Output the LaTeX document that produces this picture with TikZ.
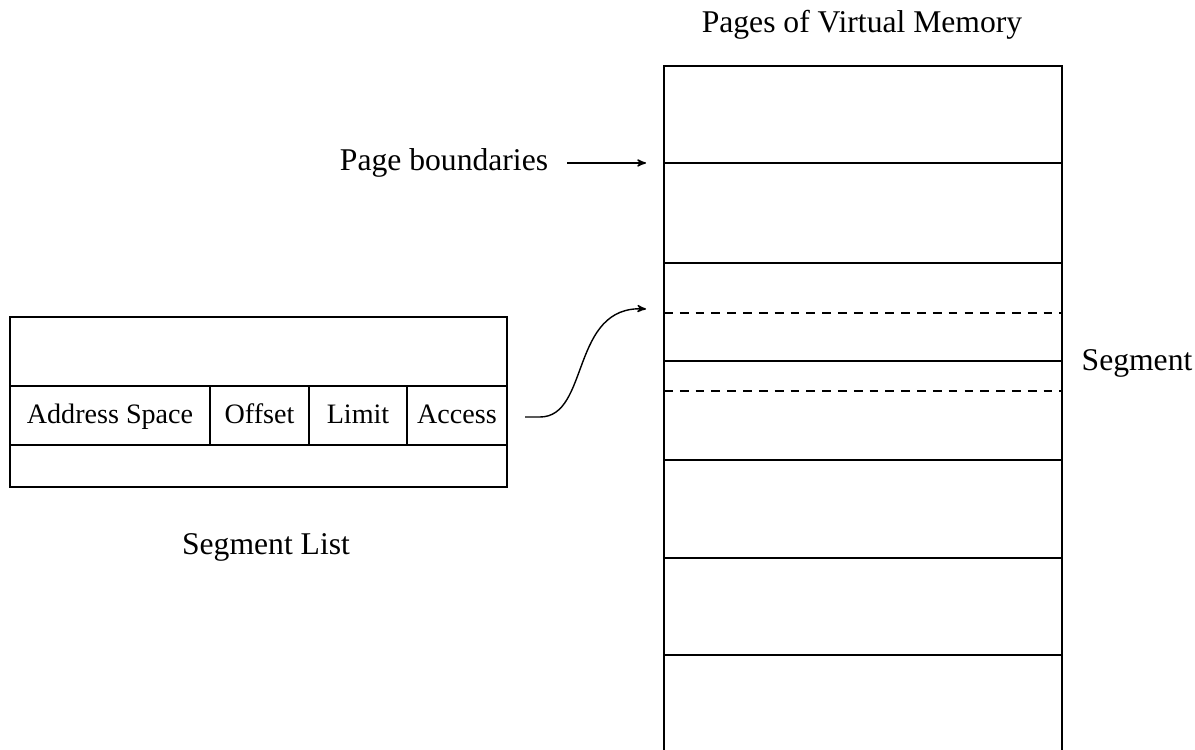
\documentclass[tikz,border=0pt]{standalone}
\usepackage{fontspec}
\setmainfont{Liberation Serif}
\usepackage{tikz}
\usetikzlibrary{calc}
\usetikzlibrary{arrows}
\tikzstyle{every node}=[font=\fontsize{18}{20}\selectfont]
\tikzstyle{cell}=[font=\fontsize{16}{18}\selectfont, anchor=base]
\tikzstyle{dashline}=[dash pattern=on 5pt off 4pt]

\begin{document}
\begin{tikzpicture}[line width=0.8pt]
                \useasboundingbox (0cm, 0cm) rectangle (23.9cm, 14.98cm);
                % pages of virtual memory
                \draw (13.28cm, -0.5cm) -- (13.28cm, 13.66cm) -- (21.24cm, 13.66cm) -- (21.24cm, -0.5cm);
                \foreach \y in {11.72, 9.72, 7.76, 5.78, 3.82, 1.88}
                    \draw (13.28cm, \y cm) -- (21.24cm, \y cm);
                \foreach \y in {8.72, 7.16}
                    \draw[dashline] (13.28cm, \y cm) -- (21.24cm, \y cm);
                \node (title) at (17.24cm, 14.48cm) {Pages of Virtual Memory};
                \node (segment) at (22.74cm, 7.72cm) {Segment};
                \node (bound) at (8.88cm, 11.72cm) {Page boundaries};
                \coordinate (pbtip) at (12.92cm, 11.72cm);
                \draw[-stealth', shorten <=0.25cm] (bound.east) -- (pbtip);
                % segment list
                \draw (0.2cm, 5.24cm) rectangle (10.14cm, 8.64cm);
                \draw (0.2cm, 7.26cm) -- (10.14cm, 7.26cm);
                \draw (0.2cm, 6.08cm) -- (10.14cm, 6.08cm);
                \foreach \x in {4.2, 6.18, 8.14}
                    \draw (\x cm, 6.08cm) -- (\x cm, 7.26cm);
                \node[cell] (aspace) at (2.2cm, 6.5cm) {Address Space};
                \node[cell] (offset) at (5.19cm, 6.5cm) {Offset};
                \node[cell] (limit) at (7.16cm, 6.5cm) {Limit};
                \node[cell] (access) at (9.14cm, 6.5cm) {Access};
                \node (seglist) at (5.32cm, 4.04cm) {Segment List};
                \coordinate (segstart) at (10.5cm, 6.64cm);
                \coordinate (segtip) at (12.92cm, 8.8cm);
                \draw[-stealth'] (segstart) -- ++(0.3cm, 0) .. controls (11.8cm, 6.64cm) and (11.4cm, 8.88cm) .. (segtip);
            \end{tikzpicture}
\end{document}
